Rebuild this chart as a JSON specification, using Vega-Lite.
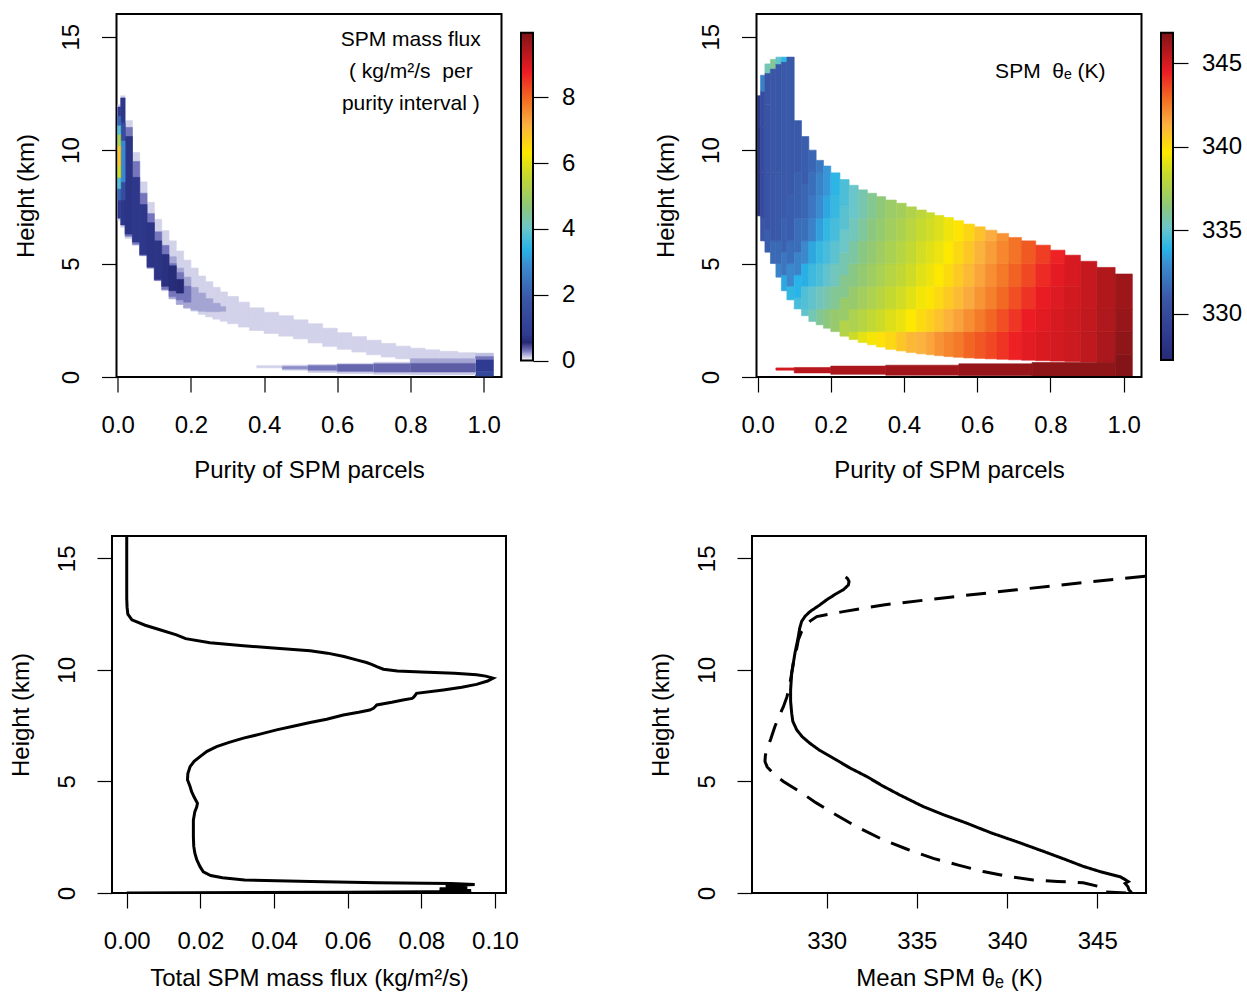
{
"$schema": "https://vega.github.io/schema/vega-lite/v6.json",
"padding": {"left": 8, "top": 13, "right": 0, "bottom": 0},
"background": "white",
"columns": 5,
"spacing": {"row": 159, "column": 15},
"align": "each",
"center": true,
"bounds": "flush",
"resolve": {"scale": {"fill": "independent", "stroke": "independent"}},
"datasets": {
"tl": [
{"a":0,"b":0.008,"c":6.9,"d":12.0,"v":0.1},
{"a":0.008,"b":0.02,"c":6.6,"d":12.4,"v":0.1},
{"a":0.02,"b":0.04,"c":6.1,"d":11.3,"v":0.1},
{"a":0.04,"b":0.06,"c":5.8,"d":9.9,"v":0.1},
{"a":0.06,"b":0.08,"c":5.35,"d":8.6,"v":0.1},
{"a":0.08,"b":0.1,"c":4.8,"d":7.7,"v":0.1},
{"a":0.1,"b":0.12,"c":4.25,"d":6.95,"v":0.1},
{"a":0.12,"b":0.14,"c":3.8,"d":6.45,"v":0.1},
{"a":0.14,"b":0.16,"c":3.45,"d":6.0,"v":0.1},
{"a":0.16,"b":0.18,"c":3.2,"d":5.55,"v":0.1},
{"a":0.18,"b":0.2,"c":3.02,"d":5.15,"v":0.1},
{"a":0.2,"b":0.22,"c":2.9,"d":4.8,"v":0.1},
{"a":0.22,"b":0.24,"c":2.76,"d":4.45,"v":0.1},
{"a":0.24,"b":0.26,"c":2.65,"d":4.2,"v":0.1},
{"a":0.26,"b":0.28,"c":2.55,"d":3.95,"v":0.1},
{"a":0.28,"b":0.3,"c":2.46,"d":3.75,"v":0.1},
{"a":0.3,"b":0.33,"c":2.35,"d":3.55,"v":0.1},
{"a":0.33,"b":0.36,"c":2.2,"d":3.3,"v":0.1},
{"a":0.36,"b":0.4,"c":2.05,"d":3.05,"v":0.1},
{"a":0.4,"b":0.44,"c":1.92,"d":2.85,"v":0.1},
{"a":0.44,"b":0.48,"c":1.8,"d":2.7,"v":0.1},
{"a":0.48,"b":0.52,"c":1.68,"d":2.52,"v":0.1},
{"a":0.52,"b":0.56,"c":1.5,"d":2.35,"v":0.1},
{"a":0.56,"b":0.6,"c":1.35,"d":2.15,"v":0.1},
{"a":0.6,"b":0.64,"c":1.22,"d":1.95,"v":0.1},
{"a":0.64,"b":0.68,"c":1.1,"d":1.78,"v":0.1},
{"a":0.68,"b":0.72,"c":0.98,"d":1.62,"v":0.1},
{"a":0.72,"b":0.76,"c":0.88,"d":1.48,"v":0.1},
{"a":0.76,"b":0.8,"c":0.8,"d":1.36,"v":0.1},
{"a":0.8,"b":0.84,"c":0.72,"d":1.27,"v":0.1},
{"a":0.84,"b":0.88,"c":0.68,"d":1.2,"v":0.1},
{"a":0.88,"b":0.93,"c":0.62,"d":1.13,"v":0.1},
{"a":0.93,"b":0.978,"c":0.58,"d":1.07,"v":0.1},
{"a":0.14,"b":0.16,"c":3.45,"d":5.3,"v":0.2},
{"a":0.16,"b":0.18,"c":3.2,"d":4.8,"v":0.2},
{"a":0.18,"b":0.2,"c":3.05,"d":4.4,"v":0.2},
{"a":0.2,"b":0.22,"c":2.95,"d":3.95,"v":0.2},
{"a":0.22,"b":0.24,"c":2.9,"d":3.7,"v":0.2},
{"a":0.24,"b":0.26,"c":2.88,"d":3.45,"v":0.2},
{"a":0.26,"b":0.28,"c":2.88,"d":3.25,"v":0.2},
{"a":0.28,"b":0.295,"c":2.9,"d":3.1,"v":0.2},
{"a":0.02,"b":0.04,"c":6.2,"d":11.0,"v":0.3},
{"a":0.04,"b":0.06,"c":5.85,"d":9.5,"v":0.3},
{"a":0.06,"b":0.08,"c":5.35,"d":8.1,"v":0.3},
{"a":0.08,"b":0.1,"c":4.8,"d":7.2,"v":0.3},
{"a":0.1,"b":0.12,"c":4.25,"d":6.4,"v":0.3},
{"a":0.12,"b":0.14,"c":3.85,"d":5.8,"v":0.3},
{"a":0.14,"b":0.16,"c":3.55,"d":5.0,"v":0.3},
{"a":0.16,"b":0.18,"c":3.4,"d":4.6,"v":0.3},
{"a":0.18,"b":0.2,"c":3.3,"d":4.0,"v":0.3},
{"a":0,"b":0.008,"c":7.0,"d":11.9,"v":0.8},
{"a":0.008,"b":0.02,"c":6.7,"d":12.3,"v":0.75},
{"a":0.02,"b":0.04,"c":6.3,"d":10.6,"v":0.7},
{"a":0.04,"b":0.06,"c":5.95,"d":8.8,"v":0.75},
{"a":0.06,"b":0.08,"c":5.4,"d":7.6,"v":0.75},
{"a":0.08,"b":0.1,"c":4.85,"d":6.8,"v":0.7},
{"a":0.1,"b":0.12,"c":4.3,"d":6.0,"v":0.7},
{"a":0.12,"b":0.14,"c":4.0,"d":5.4,"v":0.65},
{"a":0.14,"b":0.16,"c":3.8,"d":4.9,"v":0.6},
{"a":0.16,"b":0.18,"c":3.7,"d":4.3,"v":0.55},
{"a":0.008,"b":0.02,"c":7.8,"d":11.2,"v":1.5},
{"a":0.008,"b":0.02,"c":8.6,"d":10.4,"v":2.8},
{"a":0,"b":0.008,"c":7.8,"d":8.3,"v":2.2},
{"a":0,"b":0.008,"c":8.3,"d":8.8,"v":3.8},
{"a":0,"b":0.008,"c":8.8,"d":9.3,"v":5.8},
{"a":0,"b":0.008,"c":9.3,"d":10.2,"v":6.8},
{"a":0,"b":0.008,"c":10.2,"d":10.7,"v":5.2},
{"a":0,"b":0.008,"c":10.7,"d":11.1,"v":3.8},
{"a":0,"b":0.008,"c":11.1,"d":11.5,"v":2.2},
{"a":0.978,"b":1.027,"c":0.9,"d":1.05,"v":0.15},
{"a":0.978,"b":1.027,"c":0.75,"d":0.9,"v":0.3},
{"a":0.978,"b":1.027,"c":0.25,"d":0.75,"v":0.8},
{"a":0.978,"b":1.027,"c":0.04,"d":0.25,"v":1.3},
{"a":0.38,"b":0.45,"c":0.4,"d":0.5,"v":0.1},
{"a":0.45,"b":0.52,"c":0.3,"d":0.52,"v":0.12},
{"a":0.45,"b":0.52,"c":0.36,"d":0.46,"v":0.25},
{"a":0.52,"b":0.6,"c":0.2,"d":0.55,"v":0.12},
{"a":0.52,"b":0.6,"c":0.3,"d":0.5,"v":0.3},
{"a":0.6,"b":0.7,"c":0.15,"d":0.6,"v":0.12},
{"a":0.6,"b":0.7,"c":0.25,"d":0.55,"v":0.35},
{"a":0.7,"b":0.8,"c":0.12,"d":0.65,"v":0.12},
{"a":0.7,"b":0.8,"c":0.22,"d":0.58,"v":0.35},
{"a":0.8,"b":0.978,"c":0.1,"d":0.8,"v":0.12},
{"a":0.8,"b":0.978,"c":0.6,"d":0.8,"v":0.2},
{"a":0.8,"b":0.978,"c":0.22,"d":0.6,"v":0.38}
],
"tr": [
{"a":0,"b":0.008,"c":7.1,"d":9,"v":328.2},{"a":0,"b":0.008,"c":9,"d":11,"v":328.2},{"a":0,"b":0.008,"c":11,"d":12.4,"v":328.8},
{"a":0.008,"b":0.02,"c":6.0,"d":7,"v":330.8},{"a":0.008,"b":0.02,"c":7,"d":9,"v":330.0},{"a":0.008,"b":0.02,"c":9,"d":11,"v":330.0},{"a":0.008,"b":0.02,"c":11,"d":12.6,"v":330.2},{"a":0.008,"b":0.02,"c":12.6,"d":13.3,"v":332.5},
{"a":0.02,"b":0.035,"c":5.5,"d":6.5,"v":331.2},{"a":0.02,"b":0.035,"c":6.5,"d":9,"v":330.7},{"a":0.02,"b":0.035,"c":9,"d":12,"v":330.7},{"a":0.02,"b":0.035,"c":12,"d":13.4,"v":330.8},{"a":0.02,"b":0.035,"c":13.4,"d":13.8,"v":335.5},
{"a":0.035,"b":0.05,"c":5.0,"d":6,"v":331.6},{"a":0.035,"b":0.05,"c":6,"d":9,"v":330.9},{"a":0.035,"b":0.05,"c":9,"d":13.6,"v":330.9},{"a":0.035,"b":0.05,"c":13.6,"d":14.0,"v":336},
{"a":0.05,"b":0.065,"c":4.4,"d":5,"v":332.6},{"a":0.05,"b":0.065,"c":5,"d":6,"v":331.6},{"a":0.05,"b":0.065,"c":6,"d":9,"v":331.0},{"a":0.05,"b":0.065,"c":9,"d":13.8,"v":330.9},{"a":0.05,"b":0.065,"c":13.8,"d":14.1,"v":335},
{"a":0.065,"b":0.08,"c":3.8,"d":4.5,"v":333.6},{"a":0.065,"b":0.08,"c":4.5,"d":5.5,"v":332.1},{"a":0.065,"b":0.08,"c":5.5,"d":7,"v":331.3},{"a":0.065,"b":0.08,"c":7,"d":13.9,"v":331.0},{"a":0.065,"b":0.08,"c":13.9,"d":14.1,"v":334},
{"a":0.08,"b":0.1,"c":3.4,"d":4,"v":334.1},{"a":0.08,"b":0.1,"c":4,"d":5,"v":332.8},{"a":0.08,"b":0.1,"c":5,"d":6,"v":331.8},{"a":0.08,"b":0.1,"c":6,"d":8,"v":331.2},{"a":0.08,"b":0.1,"c":8,"d":14.1,"v":331.0},
{"a":0.1,"b":0.12,"c":3.0,"d":3.5,"v":334.5},{"a":0.1,"b":0.12,"c":3.5,"d":4.5,"v":333.9},{"a":0.1,"b":0.12,"c":4.5,"d":5.5,"v":332.6},{"a":0.1,"b":0.12,"c":5.5,"d":7,"v":331.8},{"a":0.1,"b":0.12,"c":7,"d":9,"v":331.3},{"a":0.1,"b":0.12,"c":9,"d":11.3,"v":331.0},
{"a":0.12,"b":0.14,"c":2.7,"d":3,"v":335.0},{"a":0.12,"b":0.14,"c":3,"d":4,"v":334.7},{"a":0.12,"b":0.14,"c":4,"d":5,"v":333.8},{"a":0.12,"b":0.14,"c":5,"d":6,"v":332.8},{"a":0.12,"b":0.14,"c":6,"d":7,"v":331.9},{"a":0.12,"b":0.14,"c":7,"d":8.5,"v":331.5},{"a":0.12,"b":0.14,"c":8.5,"d":10.6,"v":331.2},
{"a":0.14,"b":0.16,"c":2.45,"d":3,"v":335.5},{"a":0.14,"b":0.16,"c":3,"d":4,"v":335.0},{"a":0.14,"b":0.16,"c":4,"d":5,"v":334.3},{"a":0.14,"b":0.16,"c":5,"d":6,"v":333.6},{"a":0.14,"b":0.16,"c":6,"d":7,"v":332.6},{"a":0.14,"b":0.16,"c":7,"d":8,"v":332.2},{"a":0.14,"b":0.16,"c":8,"d":9,"v":331.9},{"a":0.14,"b":0.16,"c":9,"d":10.0,"v":331.5},
{"a":0.16,"b":0.18,"c":2.3,"d":3,"v":336.0},{"a":0.16,"b":0.18,"c":3,"d":4,"v":335.35},{"a":0.16,"b":0.18,"c":4,"d":5,"v":334.6},{"a":0.16,"b":0.18,"c":5,"d":6,"v":334.2},{"a":0.16,"b":0.18,"c":6,"d":7,"v":333.4},{"a":0.16,"b":0.18,"c":7,"d":8,"v":332.9},{"a":0.16,"b":0.18,"c":8,"d":9,"v":332.6},{"a":0.16,"b":0.18,"c":9,"d":9.55,"v":332.2},
{"a":0.18,"b":0.2,"c":2.15,"d":3,"v":336.4},{"a":0.18,"b":0.2,"c":3,"d":4,"v":335.7},{"a":0.18,"b":0.2,"c":4,"d":5,"v":335.0},{"a":0.18,"b":0.2,"c":5,"d":6,"v":334.5},{"a":0.18,"b":0.2,"c":6,"d":7,"v":334.1},{"a":0.18,"b":0.2,"c":7,"d":8,"v":333.6},{"a":0.18,"b":0.2,"c":8,"d":9.3,"v":333.2},
{"a":0.2,"b":0.225,"c":2.0,"d":3,"v":336.8},{"a":0.2,"b":0.225,"c":3,"d":4,"v":336.05},{"a":0.2,"b":0.225,"c":4,"d":5,"v":335.4},{"a":0.2,"b":0.225,"c":5,"d":6,"v":334.9},{"a":0.2,"b":0.225,"c":6,"d":7,"v":334.5},{"a":0.2,"b":0.225,"c":7,"d":8,"v":334.2},{"a":0.2,"b":0.225,"c":8,"d":9.0,"v":334.0},
{"a":0.225,"b":0.25,"c":1.8,"d":2.5,"v":337.7},{"a":0.225,"b":0.25,"c":2.5,"d":3.5,"v":336.85},{"a":0.225,"b":0.25,"c":3.5,"d":4.5,"v":336.15},{"a":0.225,"b":0.25,"c":4.5,"d":5.5,"v":335.6},{"a":0.225,"b":0.25,"c":5.5,"d":6.5,"v":335.2},{"a":0.225,"b":0.25,"c":6.5,"d":7.5,"v":334.85},{"a":0.225,"b":0.25,"c":7.5,"d":8.7,"v":334.6},
{"a":0.25,"b":0.275,"c":1.65,"d":2,"v":338.5},{"a":0.25,"b":0.275,"c":2,"d":3,"v":337.5},{"a":0.25,"b":0.275,"c":3,"d":4,"v":336.8},{"a":0.25,"b":0.275,"c":4,"d":5,"v":336.3},{"a":0.25,"b":0.275,"c":5,"d":6,"v":335.8},{"a":0.25,"b":0.275,"c":6,"d":7,"v":335.4},{"a":0.25,"b":0.275,"c":7,"d":8.45,"v":335.15},
{"a":0.275,"b":0.3,"c":1.52,"d":2,"v":339.1},{"a":0.275,"b":0.3,"c":2,"d":3,"v":337.84},{"a":0.275,"b":0.3,"c":3,"d":4,"v":337.17},{"a":0.275,"b":0.3,"c":4,"d":5,"v":336.68},{"a":0.275,"b":0.3,"c":5,"d":6,"v":336.28},{"a":0.275,"b":0.3,"c":6,"d":7,"v":335.9},{"a":0.275,"b":0.3,"c":7,"d":8.25,"v":335.6},
{"a":0.3,"b":0.325,"c":1.42,"d":2,"v":339.5},{"a":0.3,"b":0.325,"c":2,"d":3,"v":338.2},{"a":0.3,"b":0.325,"c":3,"d":4,"v":337.5},{"a":0.3,"b":0.325,"c":4,"d":5,"v":337.04},{"a":0.3,"b":0.325,"c":5,"d":6,"v":336.68},{"a":0.3,"b":0.325,"c":6,"d":7,"v":336.36},{"a":0.3,"b":0.325,"c":7,"d":8.1,"v":336.1},
{"a":0.325,"b":0.35,"c":1.32,"d":2,"v":339.9},{"a":0.325,"b":0.35,"c":2,"d":3,"v":338.5},{"a":0.325,"b":0.35,"c":3,"d":4,"v":337.87},{"a":0.325,"b":0.35,"c":4,"d":5,"v":337.4},{"a":0.325,"b":0.35,"c":5,"d":6,"v":337.04},{"a":0.325,"b":0.35,"c":6,"d":7,"v":336.75},{"a":0.325,"b":0.35,"c":7,"d":7.95,"v":336.53},
{"a":0.35,"b":0.379,"c":1.22,"d":2,"v":340.2},{"a":0.35,"b":0.379,"c":2,"d":3,"v":338.9},{"a":0.35,"b":0.379,"c":3,"d":4,"v":338.26},{"a":0.35,"b":0.379,"c":4,"d":5,"v":337.8},{"a":0.35,"b":0.379,"c":5,"d":6,"v":337.43},{"a":0.35,"b":0.379,"c":6,"d":7,"v":337.13},{"a":0.35,"b":0.379,"c":7,"d":7.8,"v":336.92},
{"a":0.379,"b":0.406,"c":1.15,"d":2,"v":340.7},{"a":0.379,"b":0.406,"c":2,"d":3,"v":339.25},{"a":0.379,"b":0.406,"c":3,"d":4,"v":338.6},{"a":0.379,"b":0.406,"c":4,"d":5,"v":338.15},{"a":0.379,"b":0.406,"c":5,"d":6,"v":337.8},{"a":0.379,"b":0.406,"c":6,"d":7,"v":337.48},{"a":0.379,"b":0.406,"c":7,"d":7.66,"v":337.2},
{"a":0.406,"b":0.434,"c":1.08,"d":2,"v":341.1},{"a":0.406,"b":0.434,"c":2,"d":3,"v":339.66},{"a":0.406,"b":0.434,"c":3,"d":4,"v":339.03},{"a":0.406,"b":0.434,"c":4,"d":5,"v":338.58},{"a":0.406,"b":0.434,"c":5,"d":6,"v":338.22},{"a":0.406,"b":0.434,"c":6,"d":7,"v":337.9},{"a":0.406,"b":0.434,"c":7,"d":7.5,"v":337.6},
{"a":0.434,"b":0.461,"c":1.02,"d":2,"v":341.3},{"a":0.434,"b":0.461,"c":2,"d":3,"v":340.1},{"a":0.434,"b":0.461,"c":3,"d":4,"v":339.45},{"a":0.434,"b":0.461,"c":4,"d":5,"v":339.0},{"a":0.434,"b":0.461,"c":5,"d":6,"v":338.65},{"a":0.434,"b":0.461,"c":6,"d":7,"v":338.33},{"a":0.434,"b":0.461,"c":7,"d":7.36,"v":338.0},
{"a":0.461,"b":0.4835,"c":0.98,"d":2,"v":341.6},{"a":0.461,"b":0.4835,"c":2,"d":3,"v":340.46},{"a":0.461,"b":0.4835,"c":3,"d":4,"v":339.76},{"a":0.461,"b":0.4835,"c":4,"d":5,"v":339.33},{"a":0.461,"b":0.4835,"c":5,"d":6,"v":338.97},{"a":0.461,"b":0.4835,"c":6,"d":7,"v":338.63},{"a":0.461,"b":0.4835,"c":7,"d":7.24,"v":338.4},
{"a":0.4835,"b":0.509,"c":0.94,"d":2,"v":342.0},{"a":0.4835,"b":0.509,"c":2,"d":3,"v":340.84},{"a":0.4835,"b":0.509,"c":3,"d":4,"v":340.14},{"a":0.4835,"b":0.509,"c":4,"d":5,"v":339.67},{"a":0.4835,"b":0.509,"c":5,"d":6,"v":339.31},{"a":0.4835,"b":0.509,"c":6,"d":7.12,"v":338.9},
{"a":0.509,"b":0.535,"c":0.9,"d":2,"v":342.3},{"a":0.509,"b":0.535,"c":2,"d":3,"v":341.25},{"a":0.509,"b":0.535,"c":3,"d":4,"v":340.57},{"a":0.509,"b":0.535,"c":4,"d":5,"v":340.1},{"a":0.509,"b":0.535,"c":5,"d":6,"v":339.69},{"a":0.509,"b":0.535,"c":6,"d":7.03,"v":339.34},
{"a":0.535,"b":0.563,"c":0.87,"d":2,"v":342.6},{"a":0.535,"b":0.563,"c":2,"d":3,"v":341.67},{"a":0.535,"b":0.563,"c":3,"d":4,"v":341.0},{"a":0.535,"b":0.563,"c":4,"d":5,"v":340.57},{"a":0.535,"b":0.563,"c":5,"d":6,"v":340.15},{"a":0.535,"b":0.563,"c":6,"d":6.89,"v":339.8},
{"a":0.563,"b":0.593,"c":0.84,"d":2,"v":343.0},{"a":0.563,"b":0.593,"c":2,"d":3,"v":342.1},{"a":0.563,"b":0.593,"c":3,"d":4,"v":341.48},{"a":0.563,"b":0.593,"c":4,"d":5,"v":341.08},{"a":0.563,"b":0.593,"c":5,"d":6,"v":340.68},{"a":0.563,"b":0.593,"c":6,"d":6.74,"v":340.24},
{"a":0.593,"b":0.622,"c":0.82,"d":2,"v":343.3},{"a":0.593,"b":0.622,"c":2,"d":3,"v":342.55},{"a":0.593,"b":0.622,"c":3,"d":4,"v":341.96},{"a":0.593,"b":0.622,"c":4,"d":5,"v":341.6},{"a":0.593,"b":0.622,"c":5,"d":6,"v":341.22},{"a":0.593,"b":0.622,"c":6,"d":6.62,"v":340.8},
{"a":0.622,"b":0.654,"c":0.8,"d":2,"v":343.6},{"a":0.622,"b":0.654,"c":2,"d":3,"v":343.0},{"a":0.622,"b":0.654,"c":3,"d":4,"v":342.44},{"a":0.622,"b":0.654,"c":4,"d":5,"v":342.12},{"a":0.622,"b":0.654,"c":5,"d":6,"v":341.78},{"a":0.622,"b":0.654,"c":6,"d":6.47,"v":341.4},
{"a":0.654,"b":0.686,"c":0.78,"d":2,"v":344.0},{"a":0.654,"b":0.686,"c":2,"d":3,"v":343.47},{"a":0.654,"b":0.686,"c":3,"d":4,"v":342.94},{"a":0.654,"b":0.686,"c":4,"d":5,"v":342.59},{"a":0.654,"b":0.686,"c":5,"d":6,"v":342.28},{"a":0.654,"b":0.686,"c":6,"d":6.33,"v":342.0},
{"a":0.686,"b":0.721,"c":0.76,"d":2,"v":344.4},{"a":0.686,"b":0.721,"c":2,"d":3,"v":343.96},{"a":0.686,"b":0.721,"c":3,"d":4,"v":343.46},{"a":0.686,"b":0.721,"c":4,"d":5,"v":343.08},{"a":0.686,"b":0.721,"c":5,"d":6.15,"v":342.7},
{"a":0.721,"b":0.76,"c":0.74,"d":2,"v":344.7},{"a":0.721,"b":0.76,"c":2,"d":3,"v":344.5},{"a":0.721,"b":0.76,"c":3,"d":4,"v":344.04},{"a":0.721,"b":0.76,"c":4,"d":5,"v":343.6},{"a":0.721,"b":0.76,"c":5,"d":6.0,"v":343.26},
{"a":0.76,"b":0.8,"c":0.72,"d":2,"v":344.9},{"a":0.76,"b":0.8,"c":2,"d":3,"v":344.72},{"a":0.76,"b":0.8,"c":3,"d":4,"v":344.57},{"a":0.76,"b":0.8,"c":4,"d":5,"v":344.2},{"a":0.76,"b":0.8,"c":5,"d":5.81,"v":343.8},
{"a":0.8,"b":0.84,"c":0.7,"d":2,"v":345.0},{"a":0.8,"b":0.84,"c":2,"d":3,"v":344.94},{"a":0.8,"b":0.84,"c":3,"d":4,"v":344.83},{"a":0.8,"b":0.84,"c":4,"d":5,"v":344.67},{"a":0.8,"b":0.84,"c":5,"d":5.59,"v":344.36},
{"a":0.84,"b":0.882,"c":0.68,"d":2,"v":345.2},{"a":0.84,"b":0.882,"c":2,"d":3,"v":345.17},{"a":0.84,"b":0.882,"c":3,"d":4,"v":345.1},{"a":0.84,"b":0.882,"c":4,"d":5.37,"v":344.95},
{"a":0.882,"b":0.927,"c":0.66,"d":2,"v":345.5},{"a":0.882,"b":0.927,"c":2,"d":3,"v":345.4},{"a":0.882,"b":0.927,"c":3,"d":5.1,"v":345.32},
{"a":0.927,"b":0.977,"c":0.64,"d":2,"v":345.9},{"a":0.927,"b":0.977,"c":2,"d":3,"v":345.8},{"a":0.927,"b":0.977,"c":3,"d":4.83,"v":345.75},
{"a":0.977,"b":1.024,"c":0,"d":1,"v":346.7},{"a":0.977,"b":1.024,"c":1,"d":2,"v":346.5},{"a":0.977,"b":1.024,"c":2,"d":3,"v":346.3},{"a":0.977,"b":1.024,"c":3,"d":4.54,"v":346.2},
{"a":0.05,"b":0.1,"c":0.3,"d":0.4,"v":345.0},
{"a":0.1,"b":0.2,"c":0.18,"d":0.42,"v":345.6},
{"a":0.2,"b":0.35,"c":0.12,"d":0.48,"v":345.9},
{"a":0.35,"b":0.55,"c":0.08,"d":0.52,"v":346.1},
{"a":0.55,"b":0.75,"c":0.05,"d":0.58,"v":346.3},
{"a":0.75,"b":0.977,"c":0.03,"d":0.64,"v":346.5}
],
"bl": [
{"h":0.0,"f":0.0},{"h":0.03,"f":0.06},{"h":0.07,"f":0.0925},{"h":0.11,"f":0.0935},{"h":0.15,"f":0.086},{"h":0.19,"f":0.085},{"h":0.23,"f":0.0925},{"h":0.28,"f":0.087},{"h":0.33,"f":0.087},{"h":0.38,"f":0.0945},{"h":0.43,"f":0.088},{"h":0.46,"f":0.068},{"h":0.51,"f":0.05},{"h":0.58,"f":0.032},{"h":0.68,"f":0.026},{"h":0.78,"f":0.0228},{"h":0.95,"f":0.0208},{"h":1.18,"f":0.0199},{"h":1.5,"f":0.019},{"h":1.78,"f":0.0185},{"h":2.1,"f":0.0182},{"h":2.52,"f":0.0181},{"h":2.9,"f":0.0181},{"h":3.27,"f":0.0181},{"h":3.65,"f":0.0185},{"h":3.85,"f":0.019},{"h":4.02,"f":0.0192},{"h":4.3,"f":0.0183},{"h":4.55,"f":0.0176},{"h":4.77,"f":0.0172},{"h":5.07,"f":0.0165},{"h":5.35,"f":0.0166},{"h":5.66,"f":0.0172},{"h":5.9,"f":0.0183},{"h":6.11,"f":0.0199},{"h":6.35,"f":0.0218},{"h":6.56,"f":0.0244},{"h":6.75,"f":0.0278},{"h":6.94,"f":0.0317},{"h":7.12,"f":0.0362},{"h":7.31,"f":0.0407},{"h":7.47,"f":0.0452},{"h":7.64,"f":0.0498},{"h":7.79,"f":0.0543},{"h":7.98,"f":0.0588},{"h":8.1,"f":0.063},{"h":8.2,"f":0.066},{"h":8.28,"f":0.067},{"h":8.36,"f":0.0675},{"h":8.43,"f":0.0679},{"h":8.55,"f":0.072},{"h":8.65,"f":0.075},{"h":8.72,"f":0.0775},{"h":8.76,"f":0.0778},{"h":8.85,"f":0.0783},{"h":8.95,"f":0.0787},{"h":9.1,"f":0.086},{"h":9.22,"f":0.091},{"h":9.35,"f":0.095},{"h":9.5,"f":0.098},{"h":9.63,"f":0.0995},{"h":9.72,"f":0.0975},{"h":9.78,"f":0.095},{"h":9.85,"f":0.089},{"h":9.9,"f":0.08},{"h":9.95,"f":0.0735},{"h":10.03,"f":0.0697},{"h":10.15,"f":0.0679},{"h":10.25,"f":0.0665},{"h":10.33,"f":0.0651},{"h":10.45,"f":0.0624},{"h":10.6,"f":0.059},{"h":10.75,"f":0.0545},{"h":10.86,"f":0.0498},{"h":10.97,"f":0.0407},{"h":11.08,"f":0.0317},{"h":11.22,"f":0.0226},{"h":11.4,"f":0.016},{"h":11.57,"f":0.0135},{"h":11.8,"f":0.009},{"h":12.0,"f":0.005},{"h":12.24,"f":0.0014},{"h":12.5,"f":0.0003},{"h":12.8,"f":0.0001},{"h":13.2,"f":0.0},{"h":16.0,"f":0.0}
],
"br": [
{"s":"solid","h":0.01,"t":346.9},{"s":"solid","h":0.15,"t":346.75},{"s":"solid","h":0.28,"t":346.7},{"s":"solid","h":0.43,"t":346.54},{"s":"solid","h":0.51,"t":346.72},{"s":"solid","h":0.6,"t":346.55},{"s":"solid","h":0.73,"t":346.26},{"s":"solid","h":0.96,"t":345.15},{"s":"solid","h":1.2,"t":344.2},{"s":"solid","h":1.48,"t":343.3},{"s":"solid","h":1.9,"t":341.9},{"s":"solid","h":2.3,"t":340.53},{"s":"solid","h":2.7,"t":339.1},{"s":"solid","h":3.13,"t":337.76},{"s":"solid","h":3.5,"t":336.5},{"s":"solid","h":3.87,"t":335.36},{"s":"solid","h":4.39,"t":334.06},{"s":"solid","h":4.8,"t":333.1},{"s":"solid","h":5.22,"t":332.22},{"s":"solid","h":5.6,"t":331.3},{"s":"solid","h":6.04,"t":330.37},{"s":"solid","h":6.4,"t":329.6},{"s":"solid","h":6.71,"t":329.07},{"s":"solid","h":7.0,"t":328.65},{"s":"solid","h":7.31,"t":328.34},{"s":"solid","h":7.7,"t":328.12},{"s":"solid","h":8.06,"t":328.06},{"s":"solid","h":8.6,"t":328.0},{"s":"solid","h":9.1,"t":328.0},{"s":"solid","h":9.85,"t":328.06},{"s":"solid","h":10.3,"t":328.15},{"s":"solid","h":10.75,"t":328.24},{"s":"solid","h":11.1,"t":328.33},{"s":"solid","h":11.5,"t":328.43},{"s":"solid","h":11.85,"t":328.5},{"s":"solid","h":12.17,"t":328.61},{"s":"solid","h":12.4,"t":328.8},{"s":"solid","h":12.61,"t":329.07},{"s":"solid","h":12.9,"t":329.6},{"s":"solid","h":13.14,"t":330.0},{"s":"solid","h":13.4,"t":330.5},{"s":"solid","h":13.59,"t":330.92},{"s":"solid","h":13.8,"t":331.2},{"s":"solid","h":13.96,"t":331.24},{"s":"solid","h":14.1,"t":331.15},{"s":"solid","h":14.16,"t":331.05},
{"s":"dash","h":0.0,"t":346.6},{"s":"dash","h":0.05,"t":345.3},{"s":"dash","h":0.28,"t":345.15},{"s":"dash","h":0.46,"t":344.22},{"s":"dash","h":0.52,"t":342.8},{"s":"dash","h":0.58,"t":341.45},{"s":"dash","h":0.75,"t":340.0},{"s":"dash","h":0.96,"t":338.68},{"s":"dash","h":1.25,"t":337.3},{"s":"dash","h":1.55,"t":335.91},{"s":"dash","h":1.95,"t":334.5},{"s":"dash","h":2.38,"t":333.14},{"s":"dash","h":2.95,"t":331.7},{"s":"dash","h":3.57,"t":330.37},{"s":"dash","h":4.05,"t":329.4},{"s":"dash","h":4.54,"t":328.52},{"s":"dash","h":5.0,"t":327.6},{"s":"dash","h":5.36,"t":327.04},{"s":"dash","h":5.65,"t":326.7},{"s":"dash","h":5.89,"t":326.58},{"s":"dash","h":6.15,"t":326.6},{"s":"dash","h":6.41,"t":326.67},{"s":"dash","h":6.9,"t":326.9},{"s":"dash","h":7.46,"t":327.13},{"s":"dash","h":7.9,"t":327.35},{"s":"dash","h":8.35,"t":327.6},{"s":"dash","h":8.8,"t":327.8},{"s":"dash","h":9.25,"t":327.93},{"s":"dash","h":9.8,"t":328.05},{"s":"dash","h":10.3,"t":328.15},{"s":"dash","h":10.8,"t":328.3},{"s":"dash","h":11.35,"t":328.43},{"s":"dash","h":11.7,"t":328.6},{"s":"dash","h":11.94,"t":328.8},{"s":"dash","h":12.2,"t":329.1},{"s":"dash","h":12.39,"t":329.45},{"s":"dash","h":12.61,"t":330.92},{"s":"dash","h":12.91,"t":333.14},{"s":"dash","h":13.26,"t":336.84},{"s":"dash","h":13.59,"t":340.53},{"s":"dash","h":13.91,"t":344.22},{"s":"dash","h":14.2,"t":347.74},{"s":"dash","h":14.3,"t":348.9}
]
},
"concat": [
{
 "width": 385, "height": 363,
 "layer": [
  {"data": {"name": "tl"},
   "mark": {"type": "rect", "strokeWidth": 0.6},
   "encoding": {
    "x": {"field": "a", "type": "quantitative", "scale": {"domain": [-0.0035, 1.049], "nice": false, "zero": false}, "axis": {"values": [0, 0.2, 0.4, 0.6, 0.8, 1.0], "format": ".1f", "title": "Purity of SPM parcels"}},
    "x2": {"field": "b"},
    "y": {"field": "c", "type": "quantitative", "scale": {"domain": [0, 16], "nice": false, "zero": false}, "axis": {"values": [0, 5, 10, 15], "title": "Height (km)"}},
    "y2": {"field": "d"},
    "fill": {"field": "v", "type": "quantitative", "legend": null, "scale": {"type": "linear", "zero": false, "nice": false, "domain": [0,0.1,0.2,0.3,0.55,0.8,1.84,2.88,3.38,4.03,4.67,5.67,6.31,7.16,7.95,8.75,9.96], "range": ["#ffffff","#d2d2ea","#a5a5d4","#7575bc","#262a75","#2f3b90","#3a56a6","#3b8bd0","#28b4e8","#6cc6c9","#8dc77b","#c8da2b","#fde800","#fbb040","#f26b23","#ed1c24","#7e1416"], "interpolate": "rgb", "clamp": true}},
    "stroke": {"field": "v", "type": "quantitative", "legend": null, "scale": {"type": "linear", "zero": false, "nice": false, "domain": [0,0.1,0.2,0.3,0.55,0.8,1.84,2.88,3.38,4.03,4.67,5.67,6.31,7.16,7.95,8.75,9.96], "range": ["#ffffff","#d2d2ea","#a5a5d4","#7575bc","#262a75","#2f3b90","#3a56a6","#3b8bd0","#28b4e8","#6cc6c9","#8dc77b","#c8da2b","#fde800","#fbb040","#f26b23","#ed1c24","#7e1416"], "interpolate": "rgb", "clamp": true}}
   }},
  {"data": {"values": [{"x": 0.801, "y": 14.6, "t": "SPM mass flux"}, {"x": 0.801, "y": 13.2, "t": "( kg/m²/s\u00a0\u00a0per"}, {"x": 0.801, "y": 11.75, "t": "purity interval )"}]},
   "mark": {"type": "text", "fontSize": 21, "align": "center", "baseline": "alphabetic", "font": "Liberation Sans", "color": "black"},
   "encoding": {"x": {"field": "x", "type": "quantitative"}, "y": {"field": "y", "type": "quantitative"}, "text": {"field": "t"}}}
 ]
},
{
 "width": 12, "height": 363, "view": {"stroke": null},
 "data": {"values": [{"lo": 0, "hi": 9.96}]},
 "mark": {"type": "rect", "stroke": "black", "strokeWidth": 2, "fill": {"gradient": "linear", "x1": 0, "y1": 1, "x2": 0, "y2": 0, "stops": [{"offset": 0, "color": "#ffffff"}, {"offset": 0.01, "color": "#d2d2ea"}, {"offset": 0.02, "color": "#a5a5d4"}, {"offset": 0.03, "color": "#7575bc"}, {"offset": 0.055, "color": "#262a75"}, {"offset": 0.08, "color": "#2f3b90"}, {"offset": 0.185, "color": "#3a56a6"}, {"offset": 0.289, "color": "#3b8bd0"}, {"offset": 0.339, "color": "#28b4e8"}, {"offset": 0.405, "color": "#6cc6c9"}, {"offset": 0.469, "color": "#8dc77b"}, {"offset": 0.569, "color": "#c8da2b"}, {"offset": 0.634, "color": "#fde800"}, {"offset": 0.719, "color": "#fbb040"}, {"offset": 0.798, "color": "#f26b23"}, {"offset": 0.879, "color": "#ed1c24"}, {"offset": 1, "color": "#7e1416"}]}},
 "encoding": {
  "y": {"field": "lo", "type": "quantitative", "scale": {"domain": [-0.5, 10.53], "nice": false, "zero": false}, "axis": {"orient": "right", "values": [0, 2, 4, 6, 8], "title": null}},
  "y2": {"field": "hi"}
 }
},
{"width": 189, "height": 1, "view": {"stroke": null}, "data": {"values": [{}]}, "mark": {"type": "text", "text": ""}},
{
 "width": 394, "height": 363, "view": {"stroke": null},
 "layer": [
  {"data": {"name": "tr"},
   "mark": {"type": "rect", "strokeWidth": 0.6},
   "encoding": {
    "x": {"field": "a", "type": "quantitative", "scale": {"domain": [-0.0153, 1.0613], "nice": false, "zero": false}, "axis": {"values": [0, 0.2, 0.4, 0.6, 0.8, 1.0], "format": ".1f", "title": "Purity of SPM parcels"}},
    "x2": {"field": "b"},
    "y": {"field": "c", "type": "quantitative", "scale": {"domain": [0, 16], "nice": false, "zero": false}, "axis": {"values": [0, 5, 10, 15], "title": "Height (km)", "offset": -4.5}},
    "y2": {"field": "d"},
    "fill": {"field": "v", "type": "quantitative", "legend": null, "scale": {"type": "linear", "zero": false, "nice": false, "domain": [327.25,328.82,330.87,332.93,333.91,335.18,336.45,338.41,339.68,341.35,342.91,344.48,346.83], "range": ["#262a75","#2f3b90","#3a56a6","#3b8bd0","#28b4e8","#6cc6c9","#8dc77b","#c8da2b","#fde800","#fbb040","#f26b23","#ed1c24","#7e1416"], "interpolate": "rgb", "clamp": true}},
    "stroke": {"field": "v", "type": "quantitative", "legend": null, "scale": {"type": "linear", "zero": false, "nice": false, "domain": [327.25,328.82,330.87,332.93,333.91,335.18,336.45,338.41,339.68,341.35,342.91,344.48,346.83], "range": ["#262a75","#2f3b90","#3a56a6","#3b8bd0","#28b4e8","#6cc6c9","#8dc77b","#c8da2b","#fde800","#fbb040","#f26b23","#ed1c24","#7e1416"], "interpolate": "rgb", "clamp": true}}
   }},
  {"data": {"values": [{"x0": -0.003, "x1": 1.049, "y0": 0, "y1": 16}]},
   "mark": {"type": "rect", "filled": false, "stroke": "black", "strokeWidth": 2},
   "encoding": {"x": {"field": "x0", "type": "quantitative"}, "x2": {"field": "x1"}, "y": {"field": "y0", "type": "quantitative"}, "y2": {"field": "y1"}}},
  {"data": {"values": [{"x": 0.8, "y": 13.2, "t": "SPM\u00a0\u00a0θₑ (K)"}]},
   "mark": {"type": "text", "fontSize": 21, "align": "center", "baseline": "alphabetic", "font": "Liberation Sans", "color": "black"},
   "encoding": {"x": {"field": "x", "type": "quantitative"}, "y": {"field": "y", "type": "quantitative"}, "text": {"field": "t"}}}
 ]
},
{
 "width": 12, "height": 363, "view": {"stroke": null},
 "data": {"values": [{"lo": 327.25, "hi": 346.83}]},
 "mark": {"type": "rect", "stroke": "black", "strokeWidth": 2, "fill": {"gradient": "linear", "x1": 0, "y1": 1, "x2": 0, "y2": 0, "stops": [{"offset": 0, "color": "#262a75"}, {"offset": 0.08, "color": "#2f3b90"}, {"offset": 0.185, "color": "#3a56a6"}, {"offset": 0.29, "color": "#3b8bd0"}, {"offset": 0.34, "color": "#28b4e8"}, {"offset": 0.405, "color": "#6cc6c9"}, {"offset": 0.47, "color": "#8dc77b"}, {"offset": 0.57, "color": "#c8da2b"}, {"offset": 0.635, "color": "#fde800"}, {"offset": 0.72, "color": "#fbb040"}, {"offset": 0.8, "color": "#f26b23"}, {"offset": 0.88, "color": "#ed1c24"}, {"offset": 1, "color": "#7e1416"}]}},
 "encoding": {
  "y": {"field": "lo", "type": "quantitative", "scale": {"domain": [326.23, 347.95], "nice": false, "zero": false}, "axis": {"orient": "right", "values": [330, 335, 340, 345], "title": null}},
  "y2": {"field": "hi"}
 }
},
{
 "width": 394, "height": 357,
 "data": {"name": "bl"},
 "mark": {"type": "line", "color": "black", "strokeWidth": 3, "clip": true},
 "encoding": {
  "x": {"field": "f", "type": "quantitative", "scale": {"domain": [-0.004, 0.103], "nice": false, "zero": false}, "axis": {"values": [0, 0.02, 0.04, 0.06, 0.08, 0.1], "format": ".2f", "title": "Total SPM mass flux (kg/m²/s)", "titlePadding": 13}},
  "y": {"field": "h", "type": "quantitative", "scale": {"domain": [0, 16], "nice": false, "zero": false}, "axis": {"values": [0, 5, 10, 15], "title": "Height (km)"}},
  "order": {"field": "h", "type": "quantitative"}
 }
},
{"width": 1, "height": 1, "view": {"stroke": null}, "data": {"values": [{}]}, "mark": {"type": "text", "text": ""}},
{"width": 1, "height": 1, "view": {"stroke": null}, "data": {"values": [{}]}, "mark": {"type": "text", "text": ""}},
{
 "width": 394, "height": 357,
 "data": {"name": "br"},
 "mark": {"type": "line", "color": "black", "strokeWidth": 3, "clip": true},
 "encoding": {
  "x": {"field": "t", "type": "quantitative", "scale": {"domain": [325.86, 347.7], "nice": false, "zero": false}, "axis": {"values": [330, 335, 340, 345], "title": "Mean SPM θₑ (K)", "titlePadding": 13}},
  "y": {"field": "h", "type": "quantitative", "scale": {"domain": [0, 16], "nice": false, "zero": false}, "axis": {"values": [0, 5, 10, 15], "title": "Height (km)"}},
  "strokeDash": {"field": "s", "type": "nominal", "legend": null, "scale": {"domain": ["solid", "dash"], "range": [[1, 0], [20, 12]]}},
  "order": {"field": "h", "type": "quantitative"}
 }
},
{"width": 1, "height": 1, "view": {"stroke": null}, "data": {"values": [{}]}, "mark": {"type": "text", "text": ""}}
],
"config": {
 "font": "Liberation Sans",
 "view": {"stroke": "black", "strokeWidth": 2},
 "axis": {"domain": false, "grid": false, "tickColor": "black", "tickSize": 15, "tickWidth": 1.2, "labelFont": "Liberation Sans", "labelFontSize": 24, "labelColor": "black", "titleFont": "Liberation Sans", "titleFontSize": 24, "titleFontWeight": "normal", "titleColor": "black", "labelFlush": false, "labelOverlap": false},
 "axisLeft": {"labelAngle": 270, "labelAlign": "center", "labelBaseline": "bottom", "labelPadding": 18, "titlePadding": 21.5},
 "axisBottom": {"labelPadding": 21.5, "titlePadding": 21},
 "axisRight": {"labelAngle": 0, "labelAlign": "left", "labelBaseline": "middle", "labelPadding": 13.5}
}
}
